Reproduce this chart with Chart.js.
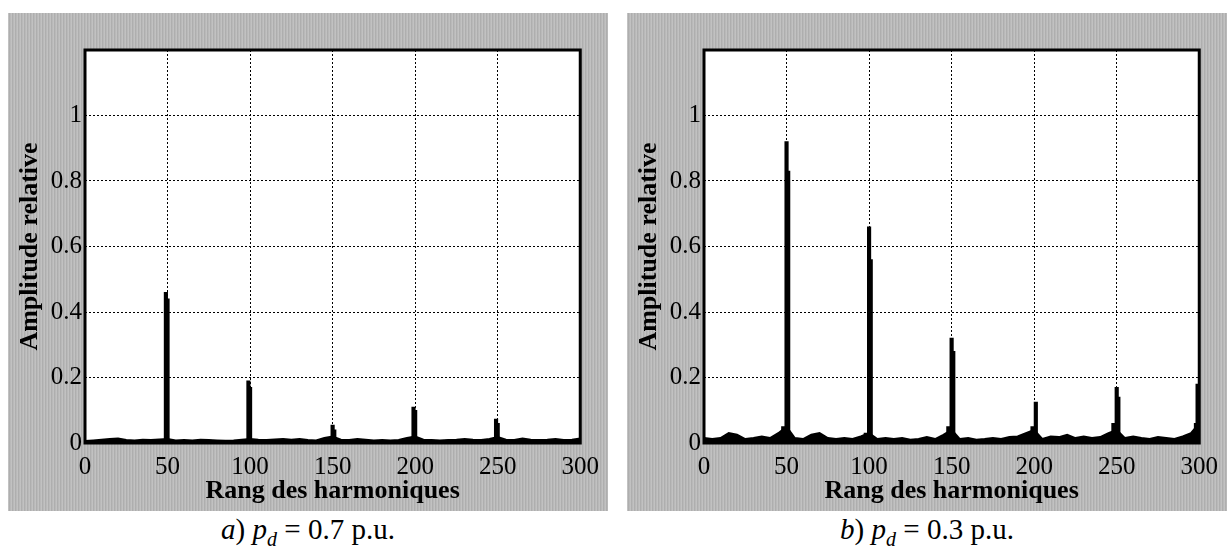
<!DOCTYPE html>
<html>
<head>
<meta charset="utf-8">
<script src="https://cdn.jsdelivr.net/npm/chart.js@4.4.0/dist/chart.umd.min.js"></script>
<style>
  body { margin: 0; background: #fff; width: 1227px; height: 548px; position: relative; overflow: hidden; }
  .panel {
    position: absolute; top: 13px; width: 600px; height: 498px;
    background-color: #b9b9b9;
    background-image: repeating-linear-gradient(90deg, rgba(255,255,255,0.12) 0 1px, rgba(0,0,0,0.06) 1px 2px, rgba(0,0,0,0) 2px 3px);
  }
  .caption {
    position: absolute; top: 513px; width: 600px; text-align: center;
    font-family: "Liberation Serif", serif; font-size: 29px; color: #000;
  }
  .caption sub { font-size: 20px; }
</style>
</head>
<body>
<div class="panel" style="left:8px"><canvas id="chartA" width="600" height="498"></canvas></div>
<div class="panel" style="left:627px"><canvas id="chartB" width="600" height="498"></canvas></div>
<div class="caption" style="left:8px"><i>a</i>) <i>p<sub>d</sub></i> = 0.7 p.u.</div>
<div class="caption" style="left:627px"><i>b</i>) <i>p<sub>d</sub></i> = 0.3 p.u.</div>

<script>
// harmonic orders of the noise floor samples
const floorOrders = [0,5,10,15,20,25,30,35,40,45,50,55,60,65,70,75,80,85,90,95,100,
  105,110,115,120,125,130,135,140,145,150,155,160,165,170,175,180,185,190,195,200,
  205,210,215,220,225,230,235,240,245,250,255,260,265,270,275,280,285,290,295,300];

// a) pd = 0.7 p.u.
const floorA = [0.006,0.008,0.010,0.012,0.014,0.009,0.008,0.010,0.009,0.011,0.012,
  0.008,0.009,0.008,0.010,0.009,0.008,0.007,0.008,0.010,0.012,
  0.010,0.009,0.011,0.012,0.010,0.012,0.009,0.008,0.015,0.020,
  0.010,0.009,0.012,0.010,0.008,0.009,0.008,0.009,0.015,0.020,
  0.010,0.009,0.008,0.009,0.010,0.012,0.010,0.009,0.012,0.018,
  0.010,0.009,0.014,0.010,0.009,0.010,0.012,0.009,0.010,0.014];
const spikeOrdersA = [49, 50, 99, 100, 150, 151, 199, 200, 249, 250];
const spikeValuesA = [0.46, 0.44, 0.19, 0.17, 0.055, 0.04, 0.11, 0.10, 0.073, 0.06];

// b) pd = 0.3 p.u.
const floorB = [0.015,0.012,0.015,0.030,0.025,0.012,0.015,0.020,0.015,0.030,0.050,
  0.015,0.012,0.025,0.030,0.015,0.012,0.015,0.012,0.020,0.030,
  0.012,0.015,0.012,0.015,0.010,0.012,0.018,0.012,0.025,0.040,
  0.012,0.015,0.010,0.012,0.015,0.012,0.018,0.020,0.030,0.040,
  0.012,0.020,0.018,0.025,0.015,0.020,0.015,0.018,0.030,0.040,
  0.015,0.020,0.015,0.012,0.018,0.015,0.012,0.020,0.030,0.060];
const spikeOrdersB = [48, 50, 51, 98, 100, 101, 148, 150, 151, 199, 201, 248, 250, 251, 298, 299];
const spikeValuesB = [0.05, 0.92, 0.83, 0.03, 0.66, 0.56, 0.05, 0.32, 0.28, 0.05, 0.125, 0.06, 0.17, 0.14, 0.06, 0.18];

const xTicks = [0, 50, 100, 150, 200, 250, 300];
const yTicks = [0, 0.2, 0.4, 0.6, 0.8, 1];

const serif = '"Liberation Serif", "Times New Roman", serif';

// thick box around the plot area
const boxPlugin = {
  id: 'box',
  afterDraw(chart) {
    const { ctx, chartArea: a } = chart;
    ctx.save();
    ctx.lineWidth = 3;
    ctx.strokeStyle = '#000';
    ctx.strokeRect(a.left, a.top, a.right - a.left, a.bottom - a.top);
    ctx.restore();
  }
};

// white plot area
const areaPlugin = {
  id: 'area',
  beforeDraw(chart) {
    const { ctx, chartArea: a } = chart;
    ctx.save();
    ctx.fillStyle = '#fff';
    ctx.fillRect(a.left, a.top, a.right - a.left, a.bottom - a.top);
    ctx.restore();
  }
};

function makeChart(id, floor, spikeOrders, spikeValues) {
  new Chart(document.getElementById(id), {
    type: 'line',
    data: {
      datasets: [
        {
          type: 'bar',
          data: spikeOrders.map((x, i) => ({ x: x, y: spikeValues[i] })),
          backgroundColor: '#000',
          borderWidth: 0,
          barThickness: 3.5,
          grouped: false
        },
        {
          type: 'line',
          data: floorOrders.map((x, i) => ({ x: x, y: floor[i] })),
          borderColor: '#000',
          backgroundColor: '#000',
          borderWidth: 2,
          pointRadius: 0,
          fill: 'origin',
          tension: 0
        }
      ]
    },
    options: {
      responsive: false,
      animation: false,
      events: [],
      layout: { padding: { top: 37, right: 21, left: 0, bottom: 0 } },
      plugins: { legend: { display: false }, tooltip: { enabled: false } },
      scales: {
        x: {
          type: 'linear',
          min: 0, max: 300,
          offset: false,
          afterFit(s) { s.height = 68; },
          afterBuildTicks(s) { s.ticks = xTicks.map(v => ({ value: v })); },
          grid: { color: '#000', lineWidth: 1, drawTicks: false, offset: false },
          border: { display: false, dash: [2, 2] },
          ticks: { color: '#000', padding: 9, maxRotation: 0, font: { family: serif, size: 25 } },
          title: {
            display: true, text: 'Rang des harmoniques', color: '#000',
            padding: { top: 0, bottom: 4 },
            font: { family: serif, size: 26, weight: 'bold' }
          }
        },
        y: {
          min: 0, max: 1.2,
          afterFit(s) { s.width = 77; },
          afterBuildTicks(s) { s.ticks = yTicks.map(v => ({ value: v })); },
          grid: { color: '#000', lineWidth: 1, drawTicks: false },
          border: { display: false, dash: [2, 2] },
          ticks: { color: '#000', padding: 3, font: { family: serif, size: 25 }, callback: v => String(v) },
          title: {
            display: true, text: 'Amplitude relative', color: '#000',
            padding: { top: 7, bottom: 0 },
            font: { family: serif, size: 26, weight: 'bold' }
          }
        }
      }
    },
    plugins: [areaPlugin, boxPlugin]
  });
}

makeChart('chartA', floorA, spikeOrdersA, spikeValuesA);
makeChart('chartB', floorB, spikeOrdersB, spikeValuesB);
</script>
</body>
</html>
